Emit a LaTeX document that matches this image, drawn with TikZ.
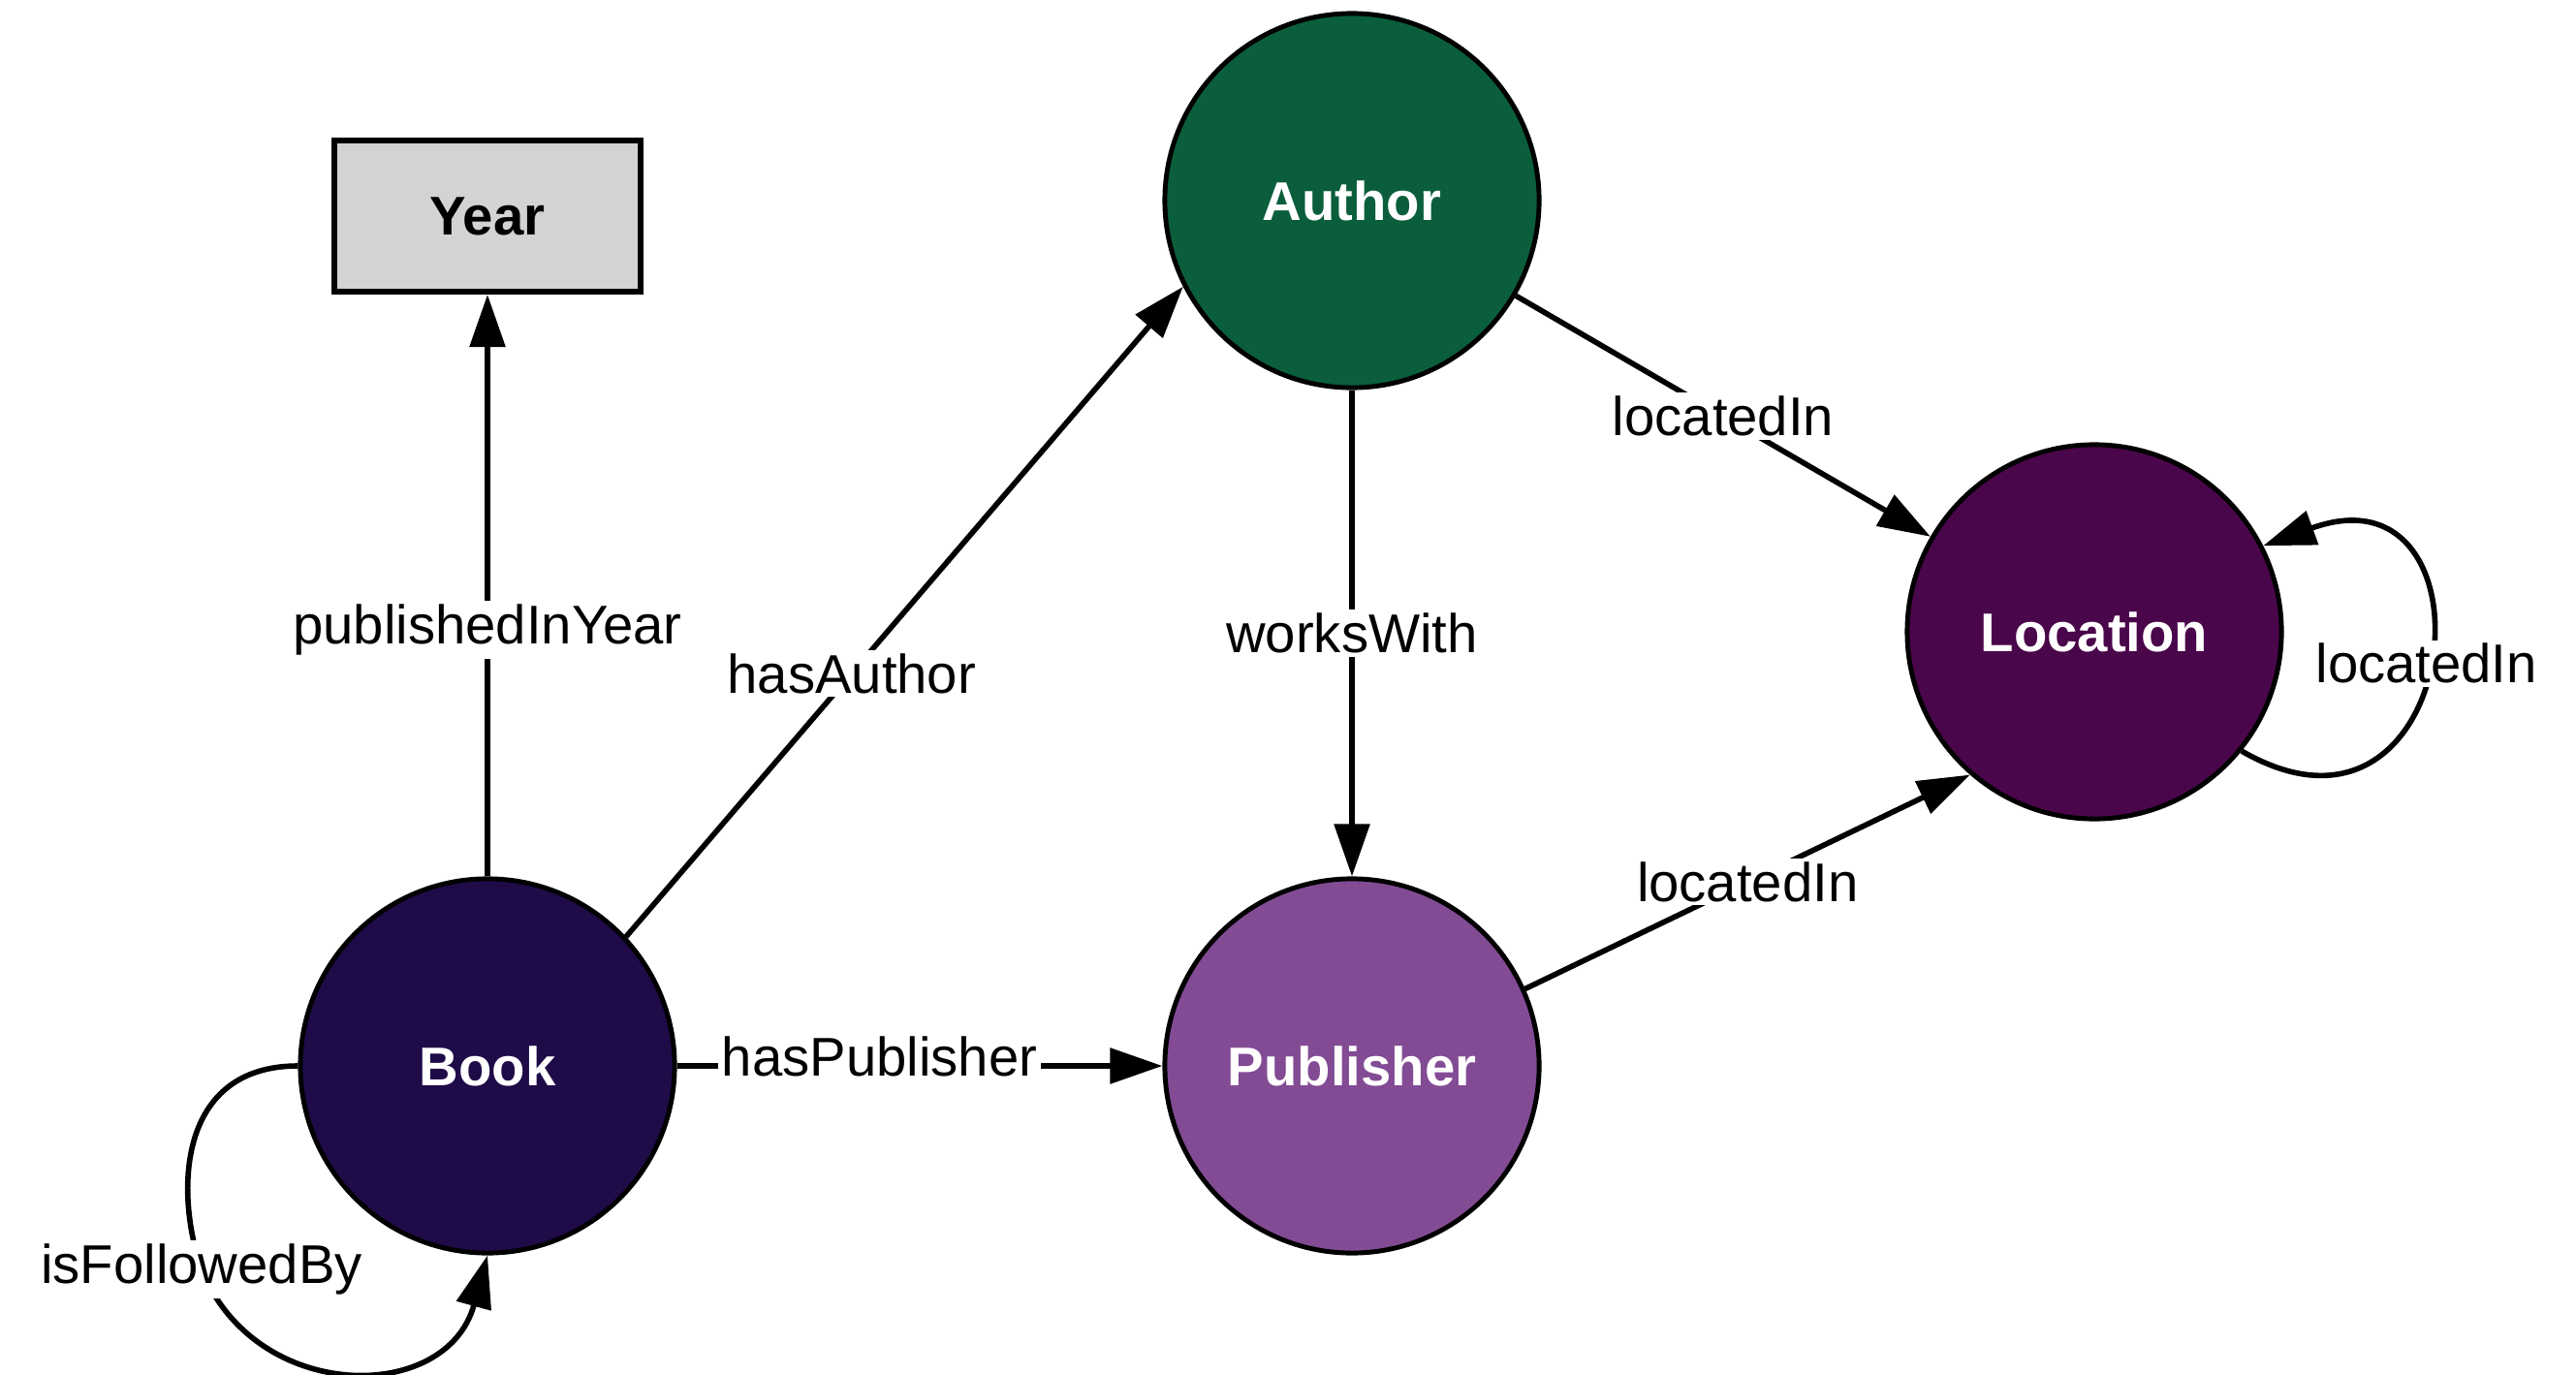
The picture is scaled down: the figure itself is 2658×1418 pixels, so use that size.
\documentclass[tikz,border=0pt]{standalone}
\usepackage{fontspec}
\setmainfont{Liberation Sans}
\usetikzlibrary{arrows.meta}
\definecolor{authorc}{RGB}{11,94,60}
\definecolor{bookc}{RGB}{31,11,72}
\definecolor{pubc}{RGB}{130,75,148}
\definecolor{locc}{RGB}{74,6,74}
\definecolor{yeargray}{RGB}{211,211,211}
\begin{document}
\begin{tikzpicture}[x=0.01cm,y=-0.01cm,
  ent/.style={circle,draw=black,line width=1.4pt,minimum size=3.86cm,inner sep=0pt,
    font=\fontsize{16}{19}\selectfont\bfseries,text=white},
  lit/.style={rectangle,draw=black,line width=1.7pt,fill=yeargray,minimum width=3.15cm,
    minimum height=1.56cm,font=\fontsize{16}{19}\selectfont\bfseries,text=black},
  rel/.style={line width=1.6pt,-{Triangle[length=5.4mm,width=3.6mm]}},
  lab/.style={fill=white,inner sep=1pt,font=\fontsize{16}{19}\selectfont,text=black}]
\useasboundingbox (0,0) rectangle (2658,1418);
\node[lit] (year) at (503,223) {Year};
\node[ent,fill=authorc] (author) at (1395,207) {Author};
\node[ent,fill=bookc] (book) at (503,1100) {Book};
\node[ent,fill=pubc] (pub) at (1395,1100) {Publisher};
\node[ent,fill=locc] (loc) at (2161,652) {Location};
\coordinate (bl) at (208,1310);
\draw[rel] (book) -- node[lab,pos=0.424]{publishedInYear} (year);
\draw[rel] (book.43) -- node[lab,pos=0.405]{hasAuthor} (author.207);
\draw[rel] (book) -- node[lab,pos=0.417,yshift=1mm]{hasPublisher} (pub);
\draw[rel] (author) -- node[lab]{worksWith} (pub);
\draw[rel] (author) -- node[lab]{locatedIn} (loc);
\draw[rel] (pub.24) -- node[lab]{locatedIn} (loc.229);
\draw[rel] (loc.-39) .. controls +(-30:2.65cm) and +(20:2.65cm) .. node[lab]{locatedIn} (loc.27);
\draw[rel] (book.west) .. controls +(-124,0) and +(-28,-80) .. (bl) node[lab]{isFollowedBy}
  .. controls +(56,139) and +(-42,154) .. (book.south);
\end{tikzpicture}
\end{document}
